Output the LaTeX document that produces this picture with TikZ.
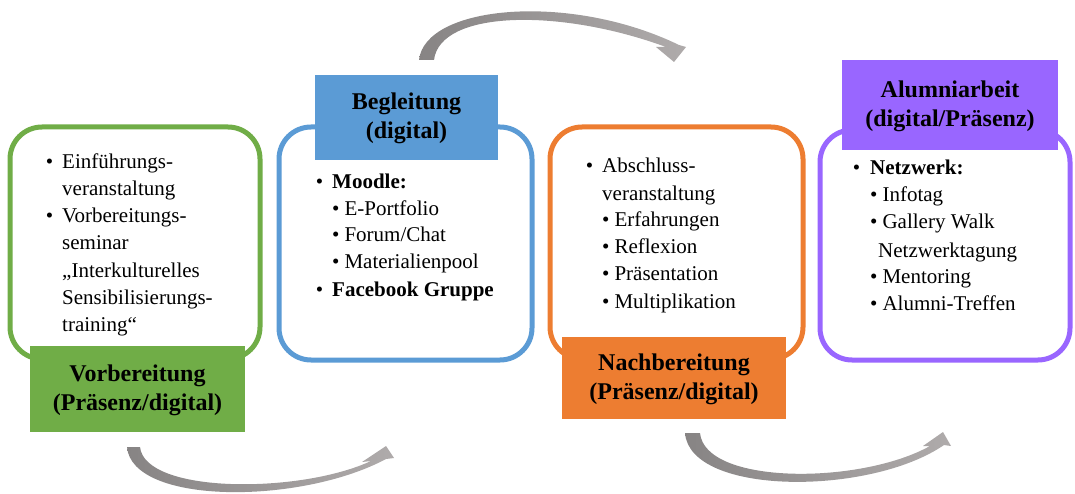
\documentclass[tikz,border=0pt]{standalone}
\usepackage{fontspec}
\setmainfont{Liberation Serif}
\begin{document}
\begin{tikzpicture}[x=1pt,y=-1pt,
  box/.style={line width=5pt,rounded corners=32pt,fill=white},
  lab/.style={inner sep=0pt,align=center,font=\fontsize{24}{29}\selectfont\bfseries},
  txt/.style={anchor=base west,inner sep=0pt,font=\fontsize{21}{27}\selectfont},
  arr/.style={left color=arrdark,right color=arrlight}]
\definecolor{cgreen}{HTML}{70AD47}
\definecolor{cblue}{HTML}{5B9BD5}
\definecolor{corange}{HTML}{ED7D31}
\definecolor{cpurple}{HTML}{9966FF}
\definecolor{arrdark}{RGB}{135,132,132}
\definecolor{arrlight}{RGB}{175,171,171}
\useasboundingbox (0,0) rectangle (1075,494);
% arrows
\shade[arr] (419,60) .. controls (425,5) and (570,-8) .. (679,45) -- (686,47) -- (674,62) -- (656,47) -- (666,47)
  .. controls (560,8) and (440,10) .. (434,60) -- cycle;
\shade[arr] (127,447) .. controls (132,505) and (300,505) .. (386,459) -- (394,458) -- (386,446) -- (362,462) -- (371,461)
  .. controls (300,494) and (145,494) .. (140,447) -- cycle;
\shade[arr] (685,433) .. controls (690,496) and (870,496) .. (944,445) -- (951,446) -- (943,432) -- (923,446) -- (930,446)
  .. controls (860,485) and (705,485) .. (700,433) -- cycle;
% boxes
\draw[box,draw=cgreen] (10,127) rectangle (260,359);
\draw[box,draw=cblue] (279,127) rectangle (532,360);
\draw[box,draw=corange] (550,127) rectangle (803,359);
\draw[box,draw=cpurple] (820,130) rectangle (1070,360);
% labels
\fill[cgreen] (30,346) rectangle (245,432);
\fill[cblue] (315,75) rectangle (498,160);
\fill[corange] (562,337) rectangle (786,419);
\fill[cpurple] (842,60) rectangle (1058,150);
\node[lab] (h1) at (137.5,390) {Vorbereitung\\(Präsenz/digital)};
\node[lab] (h2) at (406.5,118) {Begleitung\\(digital)};
\node[lab] (h3) at (674,379) {Nachbereitung\\(Präsenz/digital)};
\node[lab] (h4) at (950,106) {Alumniarbeit\\(digital/Präsenz)};
% box 1 text
\node[txt] (a1) at (62,169) {\llap{\textbullet\hspace{9pt}}Einführungs-};
\node[txt] (a2) at (62,196) {veranstaltung};
\node[txt] (a3) at (62,223) {\llap{\textbullet\hspace{9pt}}Vorbereitungs-};
\node[txt] (a4) at (62,250) {seminar};
\node[txt] (a5) at (62,277) {„Interkulturelles};
\node[txt] (a6) at (62,304) {Sensibilisierungs-};
\node[txt] (a7) at (62,331) {training“};
% box 2 text
\node[txt] (b1) at (332,189) {\llap{\textbullet\hspace{9pt}}\textbf{Moodle:}};
\node[txt] (b2) at (332,216) {\textbullet\hspace{5pt}E-Portfolio};
\node[txt] (b3) at (332,242) {\textbullet\hspace{5pt}Forum/Chat};
\node[txt] (b4) at (332,269) {\textbullet\hspace{5pt}Materialienpool};
\node[txt] (b5) at (332,296) {\llap{\textbullet\hspace{9pt}}\textbf{Facebook Gruppe}};
% box 3 text
\node[txt] (c1) at (602,173) {\llap{\textbullet\hspace{9pt}}Abschluss-};
\node[txt] (c2) at (602,201) {veranstaltung};
\node[txt] (c3) at (602,227) {\textbullet\hspace{5pt}Erfahrungen};
\node[txt] (c4) at (602,253) {\textbullet\hspace{5pt}Reflexion};
\node[txt] (c5) at (602,280) {\textbullet\hspace{5pt}Präsentation};
\node[txt] (c6) at (602,308) {\textbullet\hspace{5pt}Multiplikation};
% box 4 text
\node[txt] (d1) at (870,175) {\llap{\textbullet\hspace{10pt}}\textbf{Netzwerk:}};
\node[txt] (d2) at (870,202) {\textbullet\hspace{5pt}Infotag};
\node[txt] (d3) at (870,229) {\textbullet\hspace{5pt}Gallery Walk};
\node[txt] (d4) at (878,257) {Netzwerktagung};
\node[txt] (d5) at (870,283) {\textbullet\hspace{5pt}Mentoring};
\node[txt] (d6) at (870,310) {\textbullet\hspace{5pt}Alumni-Treffen};
\end{tikzpicture}
\end{document}
